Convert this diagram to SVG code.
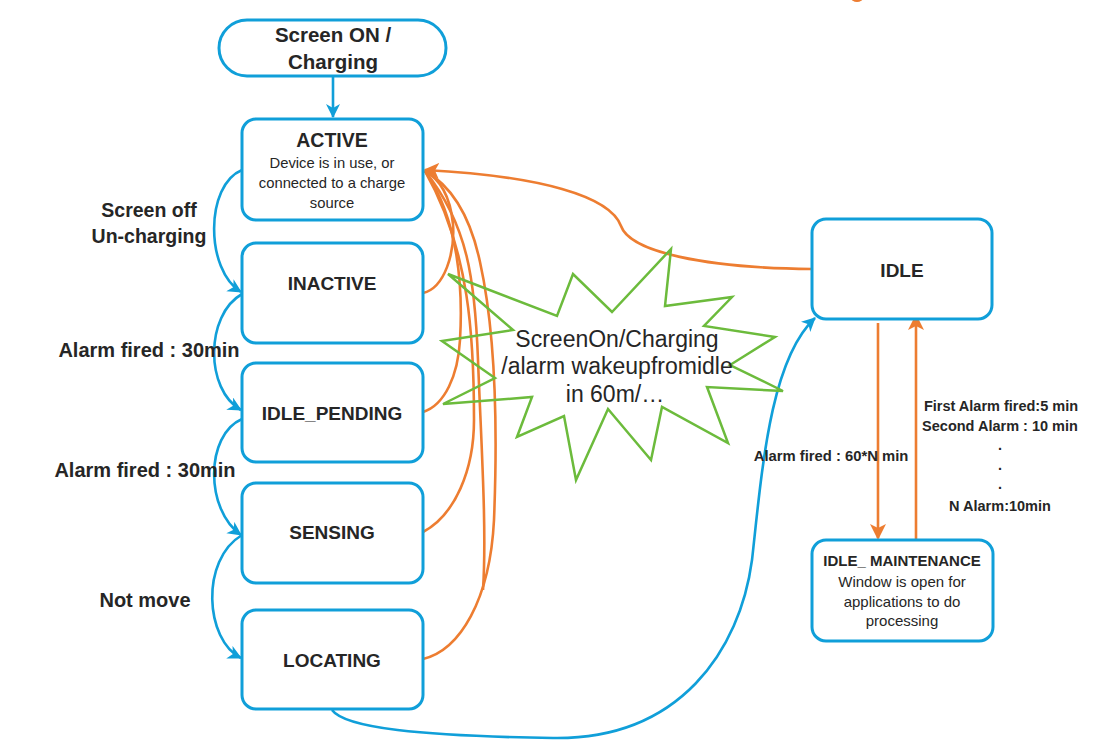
<svg xmlns="http://www.w3.org/2000/svg" width="1112" height="754" viewBox="0 0 1112 754">
<style>
.box{fill:#ffffff;stroke:#109fd9;stroke-width:3}
.t{font-family:"Liberation Sans",Arial,sans-serif;fill:#262626}
.b{font-weight:bold}
.blue{fill:none;stroke:#109fd9;stroke-width:2.6}
.or{fill:none;stroke:#ed7d31;stroke-width:2.6}
</style>
<defs>
<marker id="ab" markerUnits="userSpaceOnUse" markerWidth="16" markerHeight="16" refX="13" refY="7" orient="auto">
<path d="M0,0 L14,7 L0,14 L4,7 Z" fill="#109fd9"/>
</marker>
<marker id="ao" markerUnits="userSpaceOnUse" markerWidth="18" markerHeight="18" refX="14" refY="8" orient="auto">
<path d="M0,0 L16,8 L0,16 L4,8 Z" fill="#ed7d31"/>
</marker>
</defs>
<rect width="1112" height="754" fill="#ffffff"/>
<ellipse cx="857" cy="-2" rx="6" ry="4" fill="#ed7d31"/>

<g id="connectors">
<line class="blue" x1="333" y1="77" x2="333" y2="117" marker-end="url(#ab)"/>
<path class="blue" d="M242,170 C205,185 205,270 241,292" marker-end="url(#ab)"/>
<path class="blue" d="M242,294 C205,315 205,390 241,410" marker-end="url(#ab)"/>
<path class="blue" d="M242,419 C205,435 205,510 241,535" marker-end="url(#ab)"/>
<path class="blue" d="M242,535 C200,560 205,640 241,658" marker-end="url(#ab)"/>
<path class="blue" d="M332,710 C345,728 420,736 553,738 C680,740 740,650 752,560 C762,470 770,360 815,318" marker-end="url(#ab)"/>

<path class="or" d="M812,269 C705,268 630,252 621,226 C610,196 540,176 425,170" marker-end="url(#ao)"/>
<path class="or" d="M423,293 C445,288 455,252 453,224 C450,195 440,180 425,171"/>
<path class="or" d="M423,412 C445,405 458,375 460,340 C463,290 459,220 425,171"/>
<path class="or" d="M423,532 C455,515 474,470 474,420 C474,340 470,250 425,171"/>
<path class="or" d="M483,590 C487,530 481,440 478,360 C475,280 468,225 425,171"/>
<path class="or" d="M423,659 C460,650 490,600 494,520 C498,420 495,330 480,262 C470,215 450,185 425,171"/>

<line class="or" x1="878" y1="323" x2="878" y2="538" marker-end="url(#ao)"/>
<line class="or" x1="916" y1="540" x2="916" y2="316" marker-end="url(#ao)"/>
</g>

<g id="star">
<polygon fill="none" stroke="#6cbb3c" stroke-width="2.5" points="448,274 557,316 573,274 612,312 671,249 665,306 732,297 704,326 775,337 730,365 783,391 707,387 728,443 662,407 651,460 608,409 576,480 564,416 517,437 532,397 443,404 495,378 442,341 513,330"/>
<text class="t" font-size="23" text-anchor="middle" x="617" y="347">ScreenOn/Charging</text>
<text class="t" font-size="23" text-anchor="middle" x="617" y="374">/alarm wakeupfromidle</text>
<text class="t" font-size="23" text-anchor="middle" x="615" y="402">in 60m/…</text>
</g>

<g id="screen-on">
<rect class="box" x="219" y="20" width="227" height="56" rx="28"/>
<text class="t b" font-size="20.5" text-anchor="middle" x="333" y="42">Screen ON /</text>
<text class="t b" font-size="20.5" text-anchor="middle" x="333" y="69">Charging</text>
</g>

<g id="active">
<rect class="box" x="242" y="119" width="181" height="101" rx="14"/>
<text class="t b" font-size="19.5" text-anchor="middle" x="332" y="147">ACTIVE</text>
<text class="t" font-size="14.8" text-anchor="middle" x="332" y="168">Device is in use, or</text>
<text class="t" font-size="14.8" text-anchor="middle" x="332" y="188">connected to a charge</text>
<text class="t" font-size="14.8" text-anchor="middle" x="332" y="208">source</text>
</g>

<g id="inactive">
<rect class="box" x="242" y="243" width="181" height="100" rx="14"/>
<text class="t b" font-size="19" text-anchor="middle" x="332" y="290">INACTIVE</text>
</g>

<g id="idle-pending">
<rect class="box" x="242" y="363" width="181" height="99" rx="14"/>
<text class="t b" font-size="19" text-anchor="middle" x="332" y="420">IDLE_PENDING</text>
</g>

<g id="sensing">
<rect class="box" x="242" y="483" width="181" height="100" rx="14"/>
<text class="t b" font-size="19" text-anchor="middle" x="332" y="539">SENSING</text>
</g>

<g id="locating">
<rect class="box" x="242" y="610" width="181" height="99" rx="14"/>
<text class="t b" font-size="19" text-anchor="middle" x="332" y="667">LOCATING</text>
</g>

<g id="idle">
<rect class="box" x="812" y="219" width="180" height="100" rx="14"/>
<text class="t b" font-size="19" text-anchor="middle" x="902" y="277">IDLE</text>
</g>

<g id="idle-maintenance">
<rect class="box" x="812" y="540" width="181" height="101" rx="14"/>
<text class="t b" font-size="15" text-anchor="middle" x="902" y="566">IDLE_ MAINTENANCE</text>
<text class="t" font-size="15" text-anchor="middle" x="902" y="587">Window is open for</text>
<text class="t" font-size="15" text-anchor="middle" x="902" y="607">applications to do</text>
<text class="t" font-size="15" text-anchor="middle" x="902" y="626">processing</text>
</g>

<g id="labels">
<text class="t b" font-size="19.5" text-anchor="middle" x="149" y="217">Screen off</text>
<text class="t b" font-size="19.5" text-anchor="middle" x="149" y="243">Un-charging</text>
<text class="t b" font-size="20" text-anchor="middle" x="149" y="357">Alarm fired : 30min</text>
<text class="t b" font-size="20" text-anchor="middle" x="145" y="477">Alarm fired : 30min</text>
<text class="t b" font-size="20" text-anchor="middle" x="145" y="607">Not move</text>
<text class="t b" font-size="14.8" text-anchor="middle" x="831" y="461">Alarm fired : 60*N min</text>
<text class="t b" font-size="14.5" text-anchor="middle" x="1001" y="411">First Alarm fired:5 min</text>
<text class="t b" font-size="14.5" text-anchor="middle" x="1000" y="431">Second Alarm : 10 min</text>
<text class="t b" font-size="14.5" text-anchor="middle" x="1000" y="450">.</text>
<text class="t b" font-size="14.5" text-anchor="middle" x="1000" y="470">.</text>
<text class="t b" font-size="14.5" text-anchor="middle" x="1000" y="489">.</text>
<text class="t b" font-size="14.5" text-anchor="middle" x="1000" y="511">N Alarm:10min</text>
</g>
</svg>
